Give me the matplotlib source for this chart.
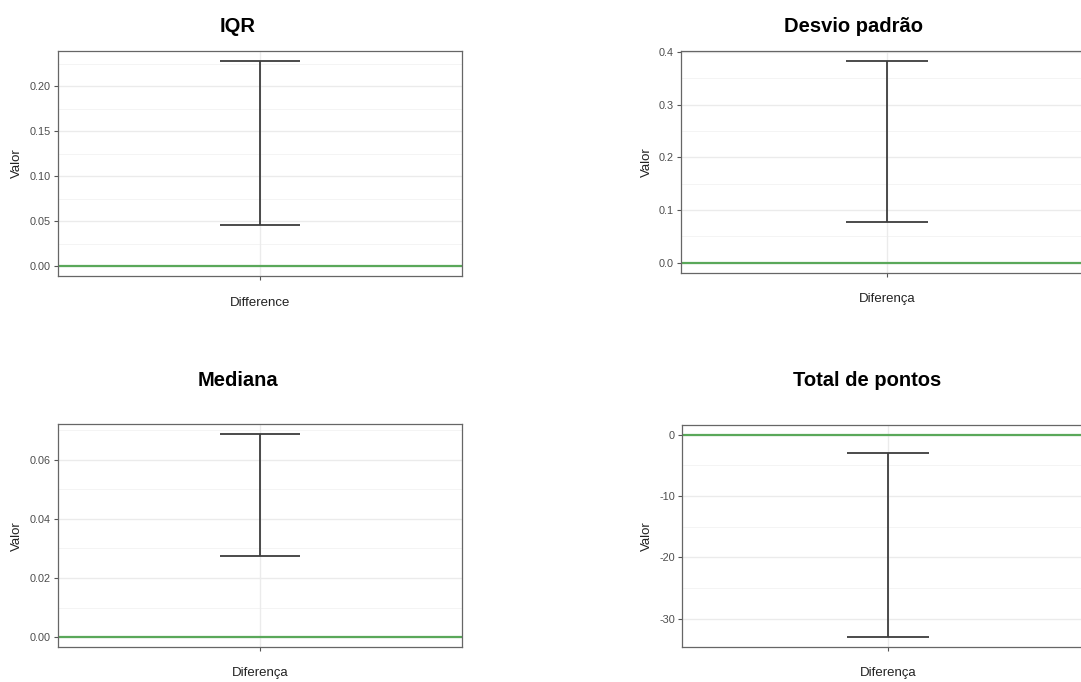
import numpy as np
import matplotlib.pyplot as plt

plt.rcParams['font.family'] = ['Liberation Sans', 'DejaVu Sans']

# data
titles = ["IQR", "Desvio padrão", "Mediana", "Total de pontos"]
xlabels = ["Difference", "Diferença", "Diferença", "Diferença"]
lower = [0.046, 0.0777, 0.0274, -33.0]
upper = [0.228, 0.383, 0.0686, -3.0]
ref_line = [0.0, 0.0, 0.0, 0.0]

yticks = [
    [0.00, 0.05, 0.10, 0.15, 0.20],
    [0.0, 0.1, 0.2, 0.3, 0.4],
    [0.00, 0.02, 0.04, 0.06],
    [0, -10, -20, -30],
]
yticklabels = [
    ["0.00", "0.05", "0.10", "0.15", "0.20"],
    ["0.0", "0.1", "0.2", "0.3", "0.4"],
    ["0.00", "0.02", "0.04", "0.06"],
    ["0", "-10", "-20", "-30"],
]
minor_step = [0.025, 0.05, 0.01, 5]
ylims = [(-0.011, 0.239), (-0.0195, 0.4008), (-0.0034, 0.0719), (-34.6, 1.6)]

# layout (figure fractions)
boxes = [
    [0.0537, 0.5953, 0.3737, 0.3300],
    [0.6300, 0.5997, 0.3811, 0.3248],
    [0.0537, 0.0509, 0.3737, 0.3270],
    [0.6309, 0.0518, 0.3811, 0.3250],
]
title_pos = [(238, 27), (854, 26), (238, 381), (867, 381)]
xlab_y = [303, 299, 673, 673]
ylab_x = [17, 647, 17, 647]

W, H = 1081, 682
fig = plt.figure(figsize=(W / 100, H / 100), dpi=100)

grey_txt = '#4d4d4d'
for i in range(4):
    ax = fig.add_axes(boxes[i])
    ax.set_facecolor('white')
    ax.set_xlim(0.4, 1.6)
    ax.set_ylim(*ylims[i])

    # grid
    lo, hi = ylims[i]
    minors = np.arange(np.floor(lo / minor_step[i]) * minor_step[i], hi, minor_step[i])
    for m in minors:
        ax.axhline(m, color='#f2f2f2', lw=0.6, zorder=0)
    for t in yticks[i]:
        ax.axhline(t, color='#ebebeb', lw=1.0, zorder=0)
    ax.axvline(1, color='#ebebeb', lw=1.0, zorder=0)

    # reference line
    ax.axhline(ref_line[i], color='#5aa85a', lw=1.6, zorder=2)

    # error bar
    ax.vlines(1, lower[i], upper[i], color='#3d3d3d', lw=1.3, zorder=3)
    ax.hlines([lower[i], upper[i]], 0.88, 1.12, color='#3d3d3d', lw=1.3, zorder=3)

    ax.set_yticks(yticks[i])
    ax.set_yticklabels(yticklabels[i])
    ax.set_xticks([1])
    ax.set_xticklabels([''])
    ax.tick_params(axis='both', length=3, width=0.8, color='#555555',
                   labelsize=7.8, labelcolor=grey_txt, pad=2)
    for s in ax.spines.values():
        s.set_color('#666666')
        s.set_linewidth(0.9)

    fig.text(title_pos[i][0] / W, 1 - title_pos[i][1] / H, titles[i],
             ha='center', va='center', fontsize=14.5, fontweight='bold')
    cx = boxes[i][0] + boxes[i][2] / 2
    fig.text(cx, 1 - xlab_y[i] / H, xlabels[i], ha='center', va='center',
             fontsize=9.5, color='#222222')
    fig.text(ylab_x[i] / W, boxes[i][1] + boxes[i][3] / 2, "Valor",
             ha='center', va='center', rotation=90, fontsize=9.5, color='#222222')

fig.savefig('out.png', dpi=100)
